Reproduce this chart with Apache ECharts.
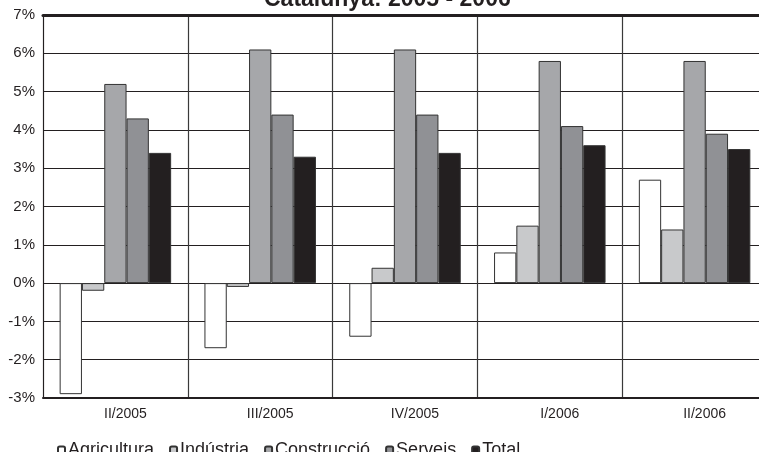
<!DOCTYPE html>
<html>
<head>
<meta charset="utf-8">
<script src="https://cdn.jsdelivr.net/npm/echarts@6/dist/echarts.min.js"></script>
<style>html,body{margin:0;padding:0;background:#fff;overflow:hidden}#c{width:768px;height:452px}</style>
</head>
<body>
<div id="c"></div>
<script>
var categories = ['II/2005', 'III/2005', 'IV/2005', 'I/2006', 'II/2006'];
var seriesNames = ['Agricultura', 'Indústria', 'Construcció', 'Serveis', 'Total'];
var agricultura = [-2.9, -1.7, -1.4, 0.8, 2.7];
var industria = [-0.2, -0.1, 0.4, 1.5, 1.4];
var construccio = [5.2, 6.1, 6.1, 5.8, 5.8];
var serveis = [4.3, 4.4, 4.4, 4.1, 3.9];
var total = [3.4, 3.3, 3.4, 3.6, 3.5];
var colors = ['#ffffff', '#c8c9cb', '#a6a7aa', '#909195', '#231f20'];
var values = [agricultura, industria, construccio, serveis, total];

var FONT = '"Liberation Sans", Arial, Helvetica, sans-serif';
var chart = echarts.init(document.getElementById('c'));
chart.setOption({
  animation: false,
  textStyle: { fontFamily: FONT, color: '#231f20' },
  title: {
    text: 'Catalunya: 2005 - 2006',
    left: 259, top: -17,
    textStyle: { fontFamily: FONT, fontSize: 23, fontWeight: 'bold', color: '#231f20' }
  },
  legend: {
    data: seriesNames,
    left: 52, top: 436,
    itemWidth: 7, itemHeight: 7, itemGap: 15,
    textStyle: { fontFamily: FONT, fontSize: 18, color: '#231f20', padding: [0, 0, 0, -2] }
  },
  grid: { left: 43, right: 1, top: 15, height: 383, containLabel: false },
  xAxis: [{
    type: 'category',
    data: categories,
    position: 'bottom',
    axisLine: { onZero: false, lineStyle: { color: '#231f20', width: 2 } },
    axisTick: { show: false },
    axisLabel: { fontFamily: FONT, fontSize: 14, color: '#231f20', margin: 9, padding: [0, 0, 0, 20] },
    splitLine: { show: true, lineStyle: { color: '#3a3a3a', width: 1.2 } }
  }, {
    type: 'category',
    data: categories,
    position: 'top',
    axisLine: { onZero: false, lineStyle: { color: '#231f20', width: 3 } },
    axisTick: { show: false },
    axisLabel: { show: false }
  }],
  yAxis: {
    type: 'value',
    min: -3, max: 7, interval: 1,
    axisLine: { show: true, lineStyle: { color: '#231f20', width: 1 } },
    axisTick: { show: false },
    axisLabel: { fontFamily: FONT, fontSize: 15, color: '#231f20', margin: 8, formatter: '{value}%' },
    splitLine: { lineStyle: { color: '#231f20', width: 1 } }
  },
  series: seriesNames.map(function (n, i) {
    return {
      name: n,
      type: 'bar',
      data: values[i],
      barGap: '0%',
      barCategoryGap: '23%',
      itemStyle: { color: colors[i], borderColor: '#333333', borderWidth: 1 }
    };
  })
});
</script>
</body>
</html>
